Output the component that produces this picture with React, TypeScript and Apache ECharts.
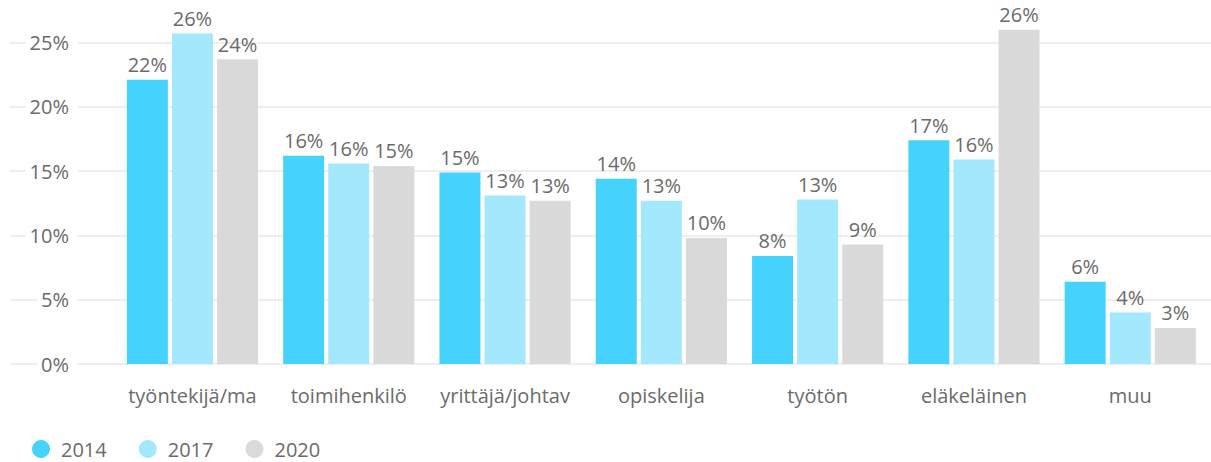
import React, { useEffect, useRef } from "react";
import * as echarts from "echarts";

const categories = ["työntekijä/ma", "toimihenkilö", "yrittäjä/johtav", "opiskelija", "työtön", "eläkeläinen", "muu"];
const years = ["2014", "2017", "2020"];
const values2014 = [22.1, 16.2, 14.9, 14.4, 8.4, 17.4, 6.4];
const values2017 = [25.7, 15.6, 13.1, 12.7, 12.8, 15.9, 4.0];
const values2020 = [23.7, 15.4, 12.7, 9.8, 9.3, 26.0, 2.8];
const yTicks = [0, 5, 10, 15, 20, 25];
const colors = ["#45d3fe", "#a4e8fd", "#dadada"];

const FONT = "'Open Sans', sans-serif";
const TEXT = "#6b6b6b";

export default function App() {
  const ref = useRef<HTMLDivElement>(null);
  useEffect(() => {
    if (!ref.current) return;
    const chart = echarts.init(ref.current, undefined, { renderer: "svg" });
    const seriesData = [values2014, values2017, values2020];
    const top = 42.5;
    const bottom = 98;
    chart.setOption({
      animation: false,
      textStyle: { fontFamily: FONT },
      legend: {
        data: years,
        left: 32,
        top: 437,
        icon: "circle",
        itemWidth: 18,
        itemHeight: 18,
        itemGap: 32,
        padding: 0,
        textStyle: { fontSize: 20, color: TEXT, fontFamily: FONT, padding: [0, 0, 0, 6], lineHeight: 24 },
      },
      grid: [
        { left: 10, right: 0, top, bottom },
        { left: 114.3, right: 2.6, top, bottom },
      ],
      xAxis: [
        { type: "value", gridIndex: 0, min: 0, max: 1, show: false },
        {
          type: "category",
          gridIndex: 1,
          data: categories,
          axisLine: { show: false },
          axisTick: { show: false },
          axisLabel: { fontSize: 20, color: TEXT, fontFamily: FONT, margin: 21, interval: 0 },
        },
      ],
      yAxis: [
        {
          type: "value",
          gridIndex: 0,
          min: yTicks[0],
          max: yTicks[yTicks.length - 1],
          interval: 5,
          axisLine: { show: false },
          axisTick: { show: false },
          splitLine: { show: true, lineStyle: { color: "#e8e8e8", width: 1.5 } },
          axisLabel: {
            inside: true,
            margin: 68,
            align: "right",
            fontSize: 20,
            color: TEXT,
            fontFamily: FONT,
            backgroundColor: "#ffffff",
            padding: [0, 9, 0, 4],
            formatter: (v: number) => v + "%",
          },
        },
        {
          type: "value",
          gridIndex: 1,
          min: yTicks[0],
          max: yTicks[yTicks.length - 1],
          show: false,
          splitLine: { show: false },
        },
      ],
      series: years.map((y, i) => ({
        name: y,
        type: "bar",
        xAxisIndex: 1,
        yAxisIndex: 1,
        data: seriesData[i],
        barWidth: 41,
        barGap: "10%",
        clip: false,
        itemStyle: { color: colors[i] },
        label: {
          show: true,
          position: "top",
          fontSize: 20,
          color: TEXT,
          fontFamily: FONT,
          formatter: (p: any) => Math.round(p.value) + "%",
        },
      })),
    });
    return () => chart.dispose();
  }, []);
  return (
    <div
      ref={ref}
      style={{ position: "fixed", left: 0, top: 0, width: 1211, height: 462, background: "#fff" }}
    />
  );
}
